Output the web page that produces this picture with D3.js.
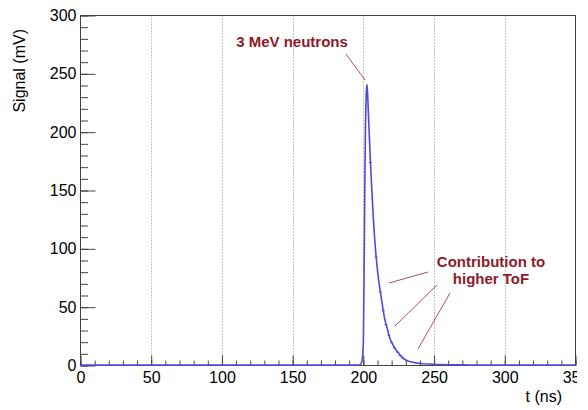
<!DOCTYPE html>
<html>
<head>
<meta charset="utf-8">
<script src="https://cdn.jsdelivr.net/npm/d3@7"></script>
<style>
  body { margin: 0; background: #fff; }
  svg { display: block; font-family: "Liberation Sans", Arial, sans-serif; }
</style>
</head>
<body>
<svg id="chart" width="588" height="410"></svg>
<script>
// ---- data ----
const timeNs = [0, 150, 196, 197, 198, 199, 199.5, 200, 200.5, 201, 201.5, 202, 202.5, 203, 204, 205, 206, 207, 208, 209, 210, 211, 212, 213, 214, 215, 216, 217, 218, 219, 220, 221, 222, 223, 224, 225, 226, 227, 228, 230, 232, 235, 238, 242, 246, 250, 255, 260, 268, 275, 350];
const signalMv = [0, 0, 0, 0, 0.4, 3, 8, 18, 75, 150, 205, 232, 240, 233, 203, 174, 150, 127, 108, 93, 81, 71, 63, 55, 47, 40, 35, 31, 26, 22, 19.5, 17, 15, 13, 11.5, 10, 8.5, 7.2, 6, 4.2, 3.2, 2.3, 1.6, 1.1, 0.8, 0.5, 0.3, 0.2, 0.1, 0, 0];
const markerTimes = [205, 209, 212, 214, 216, 218, 220, 222, 224, 226, 228];
const xMajorTicks = [0, 50, 100, 150, 200, 250, 300, 350];
const yMajorTicks = [0, 50, 100, 150, 200, 250, 300];
const xMinorTicks = d3.range(0, 351, 10);
const yMinorTicks = d3.range(0, 301, 10);
const annotations = [
  { lines: ["3 MeV neutrons"], tx: 292, ty: 47, arrows: [[346, 54, 365, 80]] },
  { lines: ["Contribution to", "higher ToF"], tx: 491, ty: 266.5, arrows: [[428, 272, 389, 283], [437, 285, 395, 326], [450, 293, 418, 349]] }
];

// ---- chart ----
(function () {
const svg = d3.select("#chart");
const pL = 80.5, pR = 575.5, pT = 15.5, pB = 365.5;
const x = d3.scaleLinear().domain([0, 350]).range([pL, pR]);
const y = d3.scaleLinear().domain([0, 300]).range([pB, pT]);

// grid (vertical dotted)
svg.append("g").selectAll("line")
  .data(xMajorTicks.filter(v => v > 0 && v < 350))
  .join("line")
  .attr("x1", d => Math.round(x(d)) + 0.5).attr("x2", d => Math.round(x(d)) + 0.5)
  .attr("y1", pT).attr("y2", pB)
  .attr("stroke", "#8a8a8a").attr("stroke-width", 1).attr("stroke-dasharray", "1,2");

// clip for the rightmost tick label (cut off by the pad edge)
svg.append("clipPath").attr("id", "padclip").append("rect")
  .attr("x", -100).attr("y", -50).attr("width", 677).attr("height", 200);

const axisColor = "#444";
const gxMinor = svg.append("g").attr("transform", `translate(0,${pB})`)
  .call(d3.axisBottom(x).tickValues(xMinorTicks).tickSize(-5).tickFormat(""));
const gx = svg.append("g").attr("transform", `translate(0,${pB})`)
  .attr("clip-path", "url(#padclip)")
  .call(d3.axisBottom(x).tickValues(xMajorTicks).tickSize(-10).tickPadding(6).tickFormat(d3.format("d")));
const gyMinor = svg.append("g").attr("transform", `translate(${pL},0)`)
  .call(d3.axisLeft(y).tickValues(yMinorTicks).tickSize(-7.5).tickFormat(""));
const gy = svg.append("g").attr("transform", `translate(${pL},0)`)
  .call(d3.axisLeft(y).tickValues(yMajorTicks).tickSize(-15).tickPadding(4).tickFormat(d3.format("d")));

[gxMinor, gx, gyMinor, gy].forEach(g => {
  g.select(".domain").remove();
  g.selectAll(".tick line").attr("stroke", axisColor);
  g.selectAll("text").attr("font-size", 16).attr("fill", "#000")
    .attr("font-family", "'Liberation Sans', Arial, sans-serif");
});
gx.selectAll(".tick text").attr("dy", "0.74em");

// frame
svg.append("rect").attr("x", pL).attr("y", pT)
  .attr("width", pR - pL).attr("height", pB - pT)
  .attr("fill", "none").attr("stroke", axisColor).attr("stroke-width", 1);

// axis titles
svg.append("text").attr("x", 562).attr("y", 402).attr("text-anchor", "end")
  .attr("font-size", 16).text("t (ns)");
svg.append("text").attr("transform", "translate(25,29) rotate(-90)")
  .attr("text-anchor", "end").attr("font-size", 16).text("Signal (mV)");

// signal histogram line
const pts = timeNs.map((t, i) => [t, signalMv[i]]);
const line = d3.line().x(d => x(d[0])).y(d => y(d[1]) - 0.5);
svg.append("path").datum(pts).attr("d", line)
  .attr("fill", "none").attr("stroke", "#4b4be0").attr("stroke-width", 1.6)
  .attr("stroke-linejoin", "round");
svg.append("g").selectAll("line")
  .data(pts.filter(d => markerTimes.includes(d[0])))
  .join("line")
  .attr("x1", d => x(d[0]) - 1.5).attr("x2", d => x(d[0]) + 1.5)
  .attr("y1", d => y(d[1])).attr("y2", d => y(d[1]))
  .attr("stroke", "#4b4be0").attr("stroke-width", 1);

// annotations
const red = "#8c1a2a";
annotations.forEach(a => {
  a.arrows.forEach(s => {
    svg.append("line").attr("x1", s[0]).attr("y1", s[1]).attr("x2", s[2]).attr("y2", s[3])
      .attr("stroke", red).attr("stroke-width", 1).attr("stroke-opacity", 0.75);
  });
  const t = svg.append("text").attr("text-anchor", "middle").attr("font-weight", "bold")
    .attr("font-size", 15).attr("fill", red);
  a.lines.forEach((l, i) => t.append("tspan").attr("x", a.tx).attr("y", a.ty + i * 17.8).text(l));
});
})();
</script>
</body>
</html>
